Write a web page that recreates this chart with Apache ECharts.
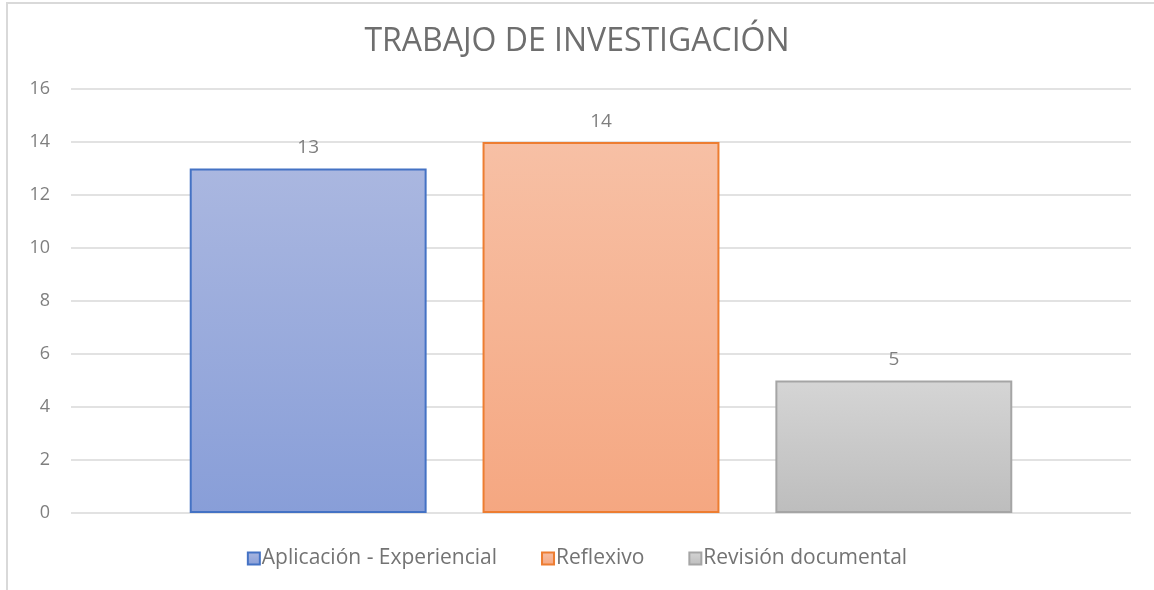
<!DOCTYPE html>
<html>
<head>
<meta charset="utf-8">
<script src="https://cdn.jsdelivr.net/npm/echarts@6/dist/echarts.min.js"></script>
<style>
  html, body { margin: 0; padding: 0; background: #fff; }
  #chart { position: absolute; left: 0; top: 0; width: 1154px; height: 590px; }
  #frame {
    position: absolute; left: 6px; top: 2px; width: 1160px; height: 600px;
    border-left: 2px solid #d9d9d9; border-top: 2px solid #d9d9d9;
    pointer-events: none;
  }
</style>
</head>
<body>
<div id="chart"></div>
<div id="frame"></div>
<script>
// datos del grafico
const titulo = 'TRABAJO DE INVESTIGACIÓN'
const categorias = ['Aplicación - Experiencial', 'Reflexivo', 'Revisión documental']
const valores = [13, 14, 5]
const yTicks = [0, 2, 4, 6, 8, 10, 12, 14, 16]

// colores (degradado arriba/abajo y borde)
const colores = [
  { top: '#aab7e0', bottom: '#889ed8', border: '#4472c4' },
  { top: '#f7c0a5', bottom: '#f5a781', border: '#ed7d31' },
  { top: '#d5d5d5', bottom: '#bdbdbd', border: '#a5a5a5' }
]

const fuente = '"Open Sans", "Noto Sans", sans-serif'

const chart = echarts.init(document.getElementById('chart'))

const series = categorias.map((nombre, i) => ({
  name: nombre,
  type: 'bar',
  data: [valores[i]],
  barGap: '23.6%',
  barCategoryGap: '22.4%',
  itemStyle: {
    color: {
      type: 'linear', x: 0, y: 0, x2: 0, y2: 1,
      colorStops: [
        { offset: 0, color: colores[i].top },
        { offset: 1, color: colores[i].bottom }
      ]
    },
    borderColor: colores[i].border,
    borderWidth: 2
  },
  label: {
    show: true,
    position: 'top',
    distance: 11,
    color: '#7f7f7f',
    fontSize: 19,
    fontFamily: fuente
  },
  emphasis: { disabled: true }
}))

chart.setOption({
  animation: false,
  backgroundColor: '#fff',
  title: {
    text: titulo,
    left: 'center',
    top: 21,
    padding: [5, 5, 5, 17],
    textStyle: {
      color: '#6e6e6e',
      fontSize: 32,
      fontWeight: 'normal',
      fontFamily: fuente
    }
  },
  legend: {
    bottom: 16,
    left: 'center',
    padding: [5, 5, 5, 25],
    itemWidth: 12,
    itemHeight: 12,
    itemGap: 44,
    icon: 'rect',
    textStyle: {
      color: '#737373',
      fontSize: 21,
      fontFamily: fuente,
      padding: [0, 0, 0, -3]
    },
    data: categorias
  },
  grid: {
    left: 71,
    right: 23,
    top: 89,
    bottom: 77,
    containLabel: false
  },
  xAxis: {
    type: 'category',
    data: [''],
    axisLine: { show: false },
    axisTick: { show: false },
    axisLabel: { show: false }
  },
  yAxis: {
    type: 'value',
    min: yTicks[0],
    max: yTicks[yTicks.length - 1],
    interval: yTicks[1] - yTicks[0],
    axisLine: { show: false },
    axisTick: { show: false },
    axisLabel: {
      color: '#7f7f7f',
      fontSize: 18,
      fontFamily: fuente,
      margin: 21
    },
    splitLine: { lineStyle: { color: '#d9d9d9', width: 1.5 } }
  },
  series: series
})
</script>
</body>
</html>
